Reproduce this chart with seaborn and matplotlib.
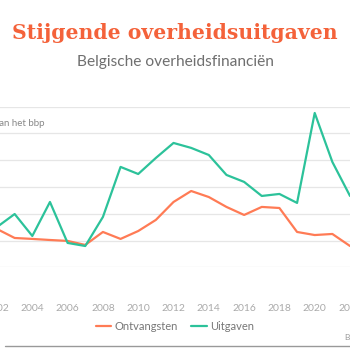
import pandas as pd
import seaborn as sns
import matplotlib.pyplot as plt

# Belgian government finances, % of GDP
years = list(range(2002, 2023))
ontvangsten = [48.86, 48.19, 48.12, 48.04, 47.97, 47.67, 48.64, 48.12, 48.71, 49.54, 50.88,
               51.70, 51.25, 50.51, 49.91, 50.51, 50.43, 48.64, 48.41, 48.49, 47.59]
uitgaven = [49.01, 49.98, 48.34, 50.88, 47.82, 47.59, 49.76, 53.50, 52.97, 54.17, 55.29,
            54.92, 54.39, 52.90, 52.38, 51.33, 51.48, 50.81, 57.53, 53.87, 51.33]
series_names = ["Ontvangsten", "Uitgaven"]
y_ticks = [46, 48, 50, 52, 54, 56, 58]
x_ticks = list(range(2002, 2023, 2))

df = pd.DataFrame({
    "jaar": years * 2,
    "waarde": ontvangsten + uitgaven,
    "reeks": [series_names[0]] * len(years) + [series_names[1]] * len(years),
})

sns.set_theme(style="white")
plt.rcParams["font.family"] = ["Lato", "DejaVu Sans"]

colors = {"Ontvangsten": "#FF7B55", "Uitgaven": "#2CC29A"}

fig = plt.figure(figsize=(3.5, 3.5), dpi=100)
fig.patch.set_facecolor("white")

# axes reach past the figure edges, like the cropped original
ax = fig.add_axes([-0.1094, 0.2363, 1.2103, 0.4589])
sns.lineplot(data=df, x="jaar", y="waarde", hue="reeks", palette=colors,
             linewidth=1.6, ax=ax, legend=False)

ax.set_xlim(2000, 2024)
ax.set_ylim(46, 58)
ax.set_yticks(y_ticks)
ax.set_xticks(x_ticks)
ax.set_xticklabels([str(x) for x in x_ticks])
ax.grid(axis="y", color="#e6e6e6", linewidth=0.9)
ax.grid(axis="x", visible=False)
for s in ax.spines.values():
    s.set_visible(False)
ax.tick_params(axis="x", colors="#aaaaaa", labelsize=7.5, pad=26.5, length=0)
ax.tick_params(axis="y", colors="#aaaaaa", labelsize=7.5, length=0, pad=20)
ax.set_xlabel("")
ax.set_ylabel("")

fig.text(44 / 350, 1 - 123 / 350, "% van het bbp", ha="right", va="center",
         fontsize=7, color="#888888")

fig.text(0.5, 1 - 33 / 350, "Stijgende overheidsuitgaven", ha="center", va="center",
         fontsize=14.7, fontweight="bold", family="DejaVu Serif", color="#F4623A")
fig.text(0.5, 1 - 62 / 350, "Belgische overheidsfinanciën", ha="center", va="center",
         fontsize=11.2, color="#6f6f6f")

handles = [plt.Line2D([], [], color=colors[n], linewidth=1.6) for n in series_names]
fig.legend(handles, series_names, loc="center", bbox_to_anchor=(0.5, 1 - 326 / 350),
           ncol=2, frameon=False, fontsize=8, labelcolor="#777777",
           handlelength=1.4, handletextpad=0.3, columnspacing=1.2)

fig.add_artist(plt.Line2D([5 / 350, 1], [1 - 346 / 350] * 2, color="#999999", linewidth=1))
fig.text(345 / 350, 1 - 338 / 350, "Bron: Eurostat", ha="left", va="center",
         fontsize=6, color="#999999")

fig.savefig("out.png", dpi=100, facecolor="white")
